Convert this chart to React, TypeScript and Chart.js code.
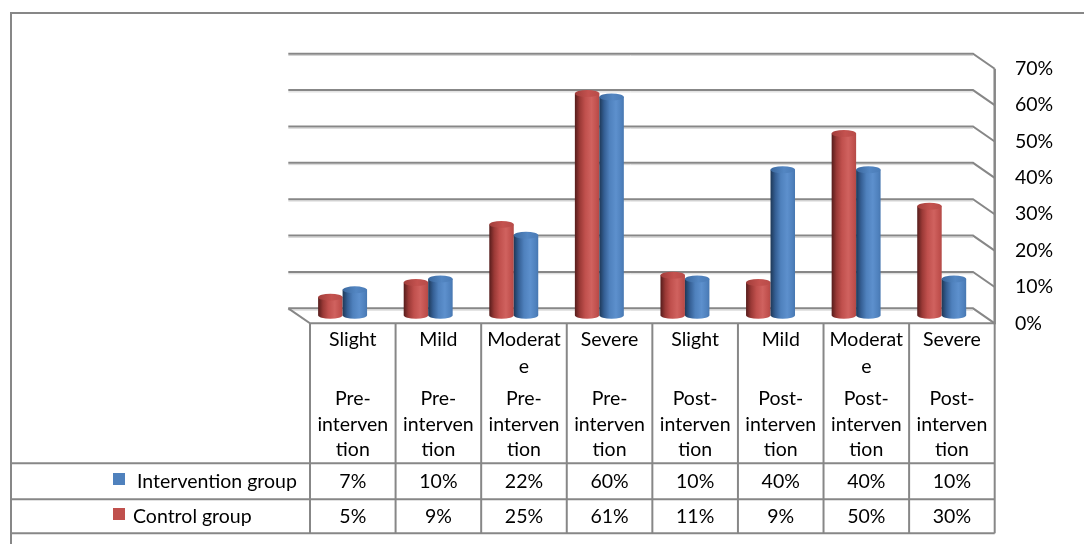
import React, { useEffect, useRef } from 'react';
import { Chart, registerables } from 'chart.js';

Chart.register(...registerables);

// ---- data ----
const categories = ['Slight', 'Mild', 'Moderate', 'Severe', 'Slight', 'Mild', 'Moderate', 'Severe'];
const severityLines = [['Slight'], ['Mild'], ['Moderat', 'e'], ['Severe'], ['Slight'], ['Mild'], ['Moderat', 'e'], ['Severe']];
const phaseLines = [
  ['Pre-', 'interven', 'tion'], ['Pre-', 'interven', 'tion'], ['Pre-', 'interven', 'tion'], ['Pre-', 'interven', 'tion'],
  ['Post-', 'interven', 'tion'], ['Post-', 'interven', 'tion'], ['Post-', 'interven', 'tion'], ['Post-', 'interven', 'tion'],
];
const interventionGroup = [7, 10, 22, 60, 10, 40, 40, 10];
const controlGroup = [5, 9, 25, 61, 11, 9, 50, 30];
const seriesNames = ['Intervention group', 'Control group'];
const yMin = 0;
const yMax = 70;
const yStep = 10;

// ---- styling ----
const FONT = 'Lato, "Open Sans", sans-serif';
const FSIZE = 19.5;
const LINE = '#878787';
const DX = 21.7; // depth offset of the front plane
const DY = 15;
const BX = 11.5; // bars sit at mid depth
const BY = 7;

const RED = { side: [['#551c1b', 0], ['#9a3936', 0.2], ['#c0504d', 0.42], ['#d0625f', 0.68], ['#c0504d', 0.9], ['#b34a47', 1]], cap: ['#a13d3a', '#c4524f', '#b84c49'] };
const BLUE = { side: [['#1e3857', 0], ['#355f94', 0.2], ['#4f81bd', 0.42], ['#5d90cd', 0.68], ['#4f81bd', 0.9], ['#4777b0', 1]], cap: ['#3b689e', '#5386c2', '#4a7bb6'] };

function drawCylinder(ctx: CanvasRenderingContext2D, cx: number, top: number, bottom: number, w: number, pal: any) {
  const rx = w / 2;
  const ry = 3.5;
  const l = cx - rx;
  const r = cx + rx;
  const g = ctx.createLinearGradient(l, 0, r, 0);
  pal.side.forEach(([c, s]: [string, number]) => g.addColorStop(s, c));
  ctx.beginPath();
  ctx.moveTo(l, top);
  ctx.lineTo(l, bottom);
  ctx.ellipse(cx, bottom, rx, ry, 0, Math.PI, 0, true);
  ctx.lineTo(r, top);
  ctx.closePath();
  ctx.fillStyle = g;
  ctx.fill();
  const cg = ctx.createLinearGradient(l, 0, r, 0);
  cg.addColorStop(0, pal.cap[0]);
  cg.addColorStop(0.55, pal.cap[1]);
  cg.addColorStop(1, pal.cap[2]);
  ctx.beginPath();
  ctx.ellipse(cx, top, rx, ry, 0, 0, Math.PI * 2);
  ctx.fillStyle = cg;
  ctx.fill();
}

const wallPlugin = {
  id: 'wall3d',
  beforeDatasetsDraw(chart: any) {
    const { ctx, chartArea } = chart;
    const ys = chart.scales.y;
    const { left, right } = chartArea;
    ctx.save();
    ys.ticks.forEach((t: any) => {
      const y = ys.getPixelForValue(t.value);
      ctx.strokeStyle = '#d4d4d4';
      ctx.lineWidth = 1;
      ctx.beginPath();
      ctx.moveTo(left, y + 1.8);
      ctx.lineTo(right, y + 1.8);
      ctx.stroke();
      ctx.strokeStyle = LINE;
      ctx.lineWidth = 2;
      ctx.beginPath();
      ctx.moveTo(left, y);
      ctx.lineTo(right, y);
      ctx.lineTo(right + DX, y + DY);
      ctx.stroke();
    });
    const y0 = ys.getPixelForValue(yMin);
    const yT = ys.getPixelForValue(yMax);
    ctx.strokeStyle = LINE;
    ctx.lineWidth = 2;
    ctx.beginPath();
    ctx.moveTo(left, y0);
    ctx.lineTo(left + DX, y0 + DY);
    ctx.lineTo(right + DX, y0 + DY);
    ctx.stroke();
    ctx.lineWidth = 2.5;
    ctx.beginPath();
    ctx.moveTo(right + DX, yT + DY);
    ctx.lineTo(right + DX, y0 + DY + 1);
    ctx.stroke();
    ctx.restore();
  },
  afterDatasetsDraw(chart: any) {
    const { ctx } = chart;
    ctx.save();
    chart.data.datasets.forEach((ds: any, di: number) => {
      const meta = chart.getDatasetMeta(di);
      const pal = di === 0 ? RED : BLUE;
      meta.data.forEach((el: any) => {
        const p = el.getProps(['x', 'y', 'base', 'width'], true);
        drawCylinder(ctx, p.x + BX, p.y + BY, p.base + BY, p.width, pal);
      });
    });
    ctx.restore();
  },
  afterDraw(chart: any) {
    const { ctx, chartArea } = chart;
    const xs = chart.scales.x;
    const ys = chart.scales.y;
    const n = categories.length;
    const colW = (chartArea.right - chartArea.left) / n;
    const tTop = ys.getPixelForValue(yMin) + DY;
    const hBottom = 463.3;
    const r1 = 499.3;
    const r2 = 533.3;
    const tLeft = 11;
    const fLeft = chartArea.left + DX;
    const fRight = chartArea.right + DX;
    ctx.save();
    ctx.strokeStyle = LINE;
    ctx.lineWidth = 2;
    // outer frame
    ctx.beginPath();
    ctx.moveTo(1084, 13);
    ctx.lineTo(tLeft, 13);
    ctx.lineTo(tLeft, 544);
    ctx.stroke();
    // horizontal rows
    [hBottom, r1, r2].forEach((y) => {
      ctx.beginPath();
      ctx.moveTo(tLeft, y);
      ctx.lineTo(fRight, y);
      ctx.stroke();
    });
    // vertical column lines
    for (let i = 0; i <= n; i++) {
      const x = fLeft + i * colW;
      ctx.beginPath();
      ctx.moveTo(x, tTop);
      ctx.lineTo(x, r2);
      ctx.stroke();
    }
    // header text
    ctx.fillStyle = '#000';
    ctx.font = FSIZE + 'px ' + FONT;
    ctx.textAlign = 'center';
    ctx.textBaseline = 'middle';
    const sevY = [340, 367];
    const phY = [399, 424.5, 450];
    for (let i = 0; i < n; i++) {
      const cx = xs.getPixelForValue(i) + DX;
      severityLines[i].forEach((s, k) => ctx.fillText(s, cx, sevY[k]));
      phaseLines[i].forEach((s, k) => ctx.fillText(s, cx, phY[k]));
      ctx.fillText(interventionGroup[i] + '%', cx, 482);
      ctx.fillText(controlGroup[i] + '%', cx, 517);
    }
    // legend keys
    ctx.textAlign = 'left';
    ctx.fillStyle = '#4f81bd';
    ctx.fillRect(113, 473, 12, 12);
    ctx.fillStyle = '#c0504d';
    ctx.fillRect(113, 508, 12, 12);
    ctx.fillStyle = '#000';
    ctx.fillText(seriesNames[0], 137, 481.5);
    ctx.fillText(seriesNames[1], 133, 516.5);
    ctx.restore();
  },
};

export default function App() {
  const ref = useRef<HTMLCanvasElement>(null);
  useEffect(() => {
    if (!ref.current) return;
    const chart = new Chart(ref.current, {
      type: 'bar',
      data: {
        labels: categories,
        datasets: [
          { label: seriesNames[1], data: controlGroup, backgroundColor: 'rgba(0,0,0,0)', borderWidth: 0, categoryPercentage: 0.572, barPercentage: 1 },
          { label: seriesNames[0], data: interventionGroup, backgroundColor: 'rgba(0,0,0,0)', borderWidth: 0, categoryPercentage: 0.572, barPercentage: 1 },
        ],
      },
      options: {
        responsive: false,
        animation: false,
        devicePixelRatio: 1,
        layout: { padding: { left: 288.3, top: 51.67, right: 0, bottom: 544 - 308.33 } },
        plugins: { legend: { display: false }, tooltip: { enabled: false } },
        scales: {
          x: { display: false, offset: true },
          y: {
            position: 'right',
            min: yMin,
            max: yMax,
            ticks: {
              stepSize: yStep,
              callback: (v: any) => v + '%',
              padding: 42,
              labelOffset: DY,
              crossAlign: 'near',
              color: '#000',
              font: { family: FONT, size: FSIZE },
            },
            grid: { display: false, drawTicks: false },
            border: { display: false },
            afterFit: (s: any) => { s.width = 111; },
          },
        },
      },
      plugins: [wallPlugin],
    });
    return () => chart.destroy();
  }, []);
  return (
    <div style={{ position: 'absolute', left: 0, top: 0, width: 1084, height: 544, background: '#fff' }}>
      <canvas ref={ref} width={1084} height={544} style={{ display: 'block' }} />
    </div>
  );
}
